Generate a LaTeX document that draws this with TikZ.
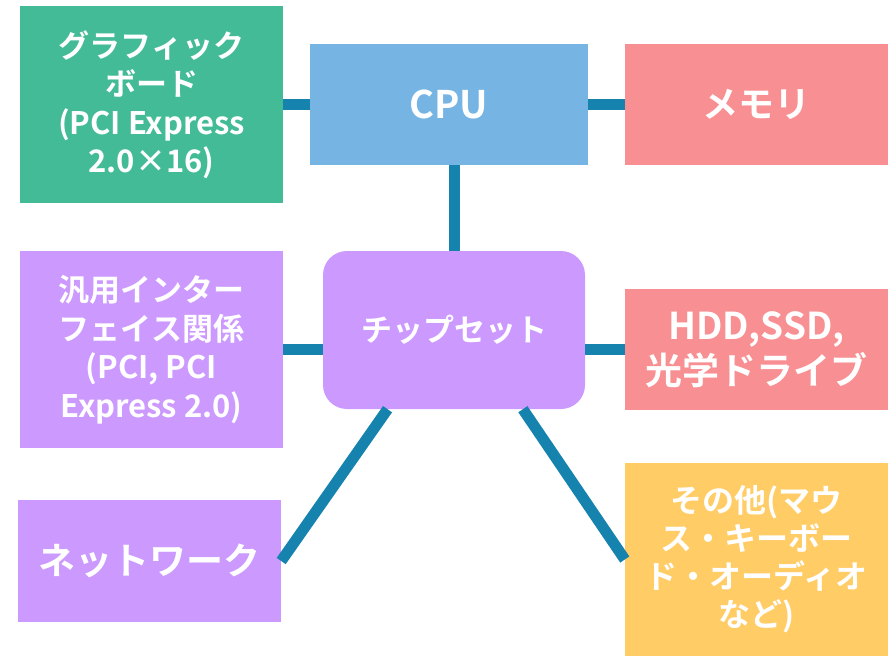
\documentclass[tikz,border=0pt]{standalone}
\usepackage{fontspec}
\setmainfont{Noto Sans CJK JP}[BoldFont={Noto Sans CJK JP Bold}]
\definecolor{bgreen}{RGB}{68,187,151}
\definecolor{bblue}{RGB}{118,181,227}
\definecolor{bpink}{RGB}{248,143,146}
\definecolor{bpurple}{RGB}{204,153,255}
\definecolor{byellow}{RGB}{255,204,102}
\definecolor{link}{RGB}{22,130,174}
\newcommand{\fs}[2]{\fontsize{#1}{#2}\selectfont}

\begin{document}
\begin{tikzpicture}[x=1pt,y=-1pt,
    box/.style={rectangle,inner sep=0pt,text=white,align=center,font=\bfseries},
    wire/.style={draw=link,line width=11pt}]
    \useasboundingbox (0,0) rectangle (891,656);
    \node[box,fill=bgreen,minimum width=263pt,minimum height=197pt,font=\bfseries\fs{31}{38.5}] (GB) at (151.5,104.5) {グラフィック\\ボード\\(PCI Express\\2.0×16)};
    \node[box,fill=bblue,minimum width=278pt,minimum height=121pt,font=\bfseries\fs{38}{44}] (CPU) at (449,104.5) {CPU};
    \node[box,fill=bpink,minimum width=263pt,minimum height=121pt,font=\bfseries\fs{36}{44}] (MEM) at (756.5,104.5) {メモリ};
    \node[box,fill=bpurple,minimum width=263pt,minimum height=197pt,font=\bfseries\fs{31}{38.5}] (IF) at (151.5,349.5) {汎用インター\\フェイス関係\\(PCI, PCI\\Express 2.0)};
    \node[box,fill=bpurple,rounded corners=24pt,minimum width=262pt,minimum height=158pt,font=\bfseries\fs{31}{38}] (CS) at (454,330) {チップセット};
    \node[box,fill=bpink,minimum width=263pt,minimum height=121pt,font=\bfseries\fs{37}{45}] (HDD) at (756.5,349.5) {HDD,SSD,\\光学ドライブ};
    \node[box,fill=bpurple,minimum width=263pt,minimum height=122pt,font=\bfseries\fs{37}{44}] (NW) at (149.5,561) {ネットワーク};
    \node[box,fill=byellow,minimum width=263pt,minimum height=193pt,font=\bfseries\fs{32}{38}] (OT) at (756.5,559.5) {その他(マウ\\ス・キーボー\\ド・オーディオ\\など)};
    % connectors
    \path[wire] (GB) -- (CPU);
    \path[wire] (CPU) -- (MEM);
    \path[wire] (CS.north) -- (CS.north |- CPU.south);
    \path[wire] (IF.east) -- (IF.east -| CS.west);
    \path[wire] (CS.east |- HDD.west) -- (HDD.west);
    \path[wire] (CS.230) -- (NW.east);
    \path[wire] (CS.311) -- (OT.west);
\end{tikzpicture}
\end{document}
